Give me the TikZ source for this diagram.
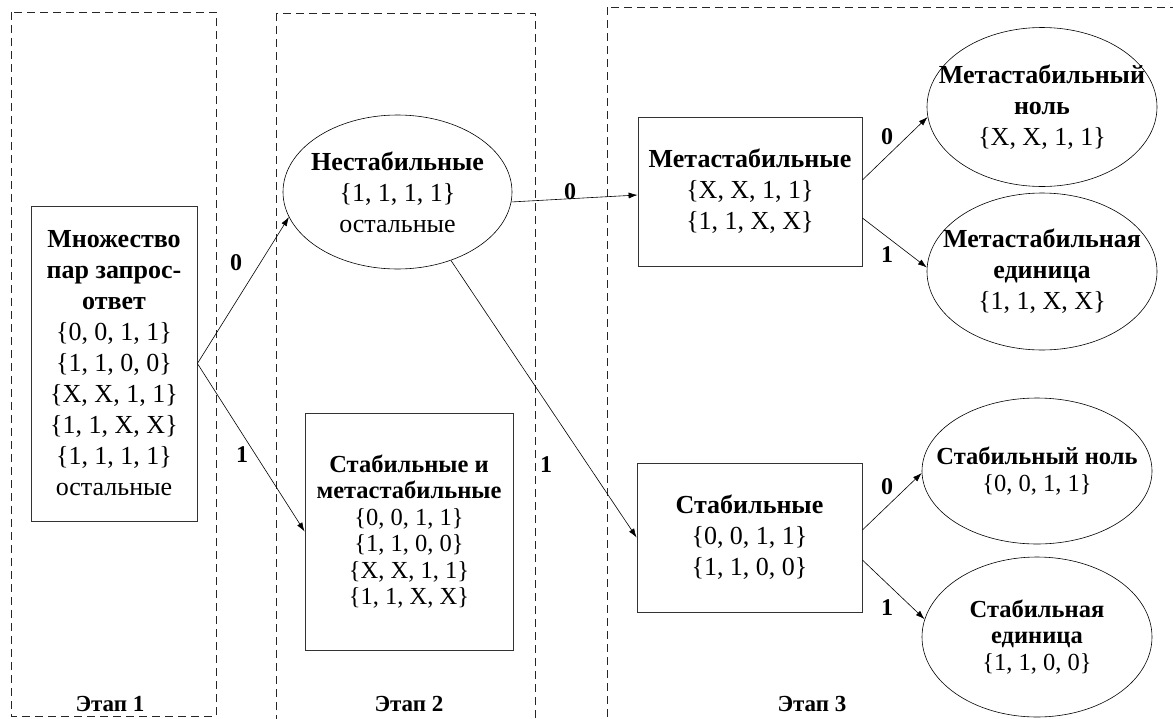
\documentclass[tikz,border=0pt]{standalone}
\usepackage{fontspec}
\setmainfont{Liberation Serif}
\usetikzlibrary{shapes.geometric,arrows.meta}
\begin{document}
\begin{tikzpicture}[x=1pt,y=-1pt,
  txt/.style={align=center,font=\fontsize{26}{31}\selectfont},
  smalltxt/.style={align=center,font=\fontsize{24.5}{26.5}\selectfont},
  boxnode/.style={draw=black!80,line width=0.8pt,rectangle,inner sep=0pt,align=center},
  ellnode/.style={draw=black,line width=0.6pt,ellipse,inner sep=0pt},
  lbl/.style={font=\bfseries\fontsize{24}{28}\selectfont,inner sep=0pt},
  stagelbl/.style={font=\bfseries\fontsize{23}{27}\selectfont,inner sep=0pt},
  stagebox/.style={draw=black!85,line width=0.7pt,dash pattern=on 8pt off 5pt},
  arr/.style={-{Latex[length=9pt,width=6pt]},line width=0.6pt}]
\useasboundingbox (0,0) rectangle (1173,718);
\clip (0,0) rectangle (1173,718);

% stages
\draw[stagebox] (11,12) rectangle (216,716);
\draw[stagebox] (276,13) rectangle (535,730);
\draw[stagebox] (607,7) rectangle (1190,730);
\node[stagelbl] (s1) at (110,704) {Этап 1};
\node[stagelbl] (s2) at (409,704) {Этап 2};
\node[stagelbl] (s3) at (812,704) {Этап 3};

% boxes
\node[boxnode,txt,minimum width=166pt,minimum height=315pt] (b1) at (114,363.5)
  {\textbf{Множество}\\\textbf{пар запрос-}\\\textbf{ответ}\\\{0, 0, 1, 1\}\\\{1, 1, 0, 0\}\\\{X, X, 1, 1\}\\\{1, 1, X, X\}\\\{1, 1, 1, 1\}\\остальные};
\node[boxnode,smalltxt,minimum width=208pt,minimum height=237pt] (b3) at (409,531.5)
  {\textbf{Стабильные и}\\\textbf{метастабильные}\\\{0, 0, 1, 1\}\\\{1, 1, 0, 0\}\\\{X, X, 1, 1\}\\\{1, 1, X, X\}};
\node[boxnode,txt,minimum width=224pt,minimum height=149pt] (b4) at (750,191.5)
  {\textbf{Метастабильные}\\\{X, X, 1, 1\}\\\{1, 1, X, X\}};
\node[boxnode,txt,minimum width=225pt,minimum height=149pt] (b5) at (749.5,537.5)
  {\textbf{Стабильные}\\\{0, 0, 1, 1\}\\\{1, 1, 0, 0\}};

% ellipses
\node[ellnode,minimum width=229pt,minimum height=154pt] (n2) at (397.5,192) {};
\node[txt] (t2) at (n2) {\textbf{Нестабильные}\\\{1, 1, 1, 1\}\\остальные};
\node[ellnode,minimum width=230pt,minimum height=159pt] (n6) at (1042,107) {};
\node[txt] (t6) at (n6) {\textbf{Метастабильный}\\\textbf{ноль}\\\{X, X, 1, 1\}};
\node[ellnode,minimum width=230pt,minimum height=157pt] (n7) at (1042,271.5) {};
\node[txt] (t7) at (n7) {\textbf{Метастабильная}\\\textbf{единица}\\\{1, 1, X, X\}};
\node[ellnode,minimum width=230pt,minimum height=146pt] (n8) at (1037,471) {};
\node[smalltxt] (t8) at (n8) {\textbf{Стабильный ноль}\\\{0, 0, 1, 1\}};
\node[ellnode,minimum width=230pt,minimum height=160pt] (n9) at (1037,637) {};
\node[smalltxt] (t9) at (n9) {\textbf{Стабильная}\\\textbf{единица}\\\{1, 1, 0, 0\}};

% arrows
\draw[arr] (b1.east) -- (n2.193);
\draw[arr] (b1.east) -- (b3.west);
\draw[arr] (n2.355) -- ([yshift=-3.5pt]b4.west);
\draw[arr] (n2.308) -- (b5.west);
\draw[arr] ([yshift=11.5pt]b4.east) -- (n6.185);
\draw[arr] ([yshift=-26.5pt]b4.east) -- (n7.178);
\draw[arr] ([yshift=7.5pt]b5.east) -- (n8.181);
\draw[arr] ([yshift=-22.5pt]b5.east) -- (n9.171);

% labels
\node[lbl] (l1) at (236,263) {0};
\node[lbl] (l2) at (242,455) {1};
\node[lbl] (l3) at (570,192) {0};
\node[lbl] (l4) at (546,465) {1};
\node[lbl] (l5) at (887,137) {0};
\node[lbl] (l6) at (887,255) {1};
\node[lbl] (l7) at (887,487) {0};
\node[lbl] (l8) at (887,608) {1};
\end{tikzpicture}
\end{document}
